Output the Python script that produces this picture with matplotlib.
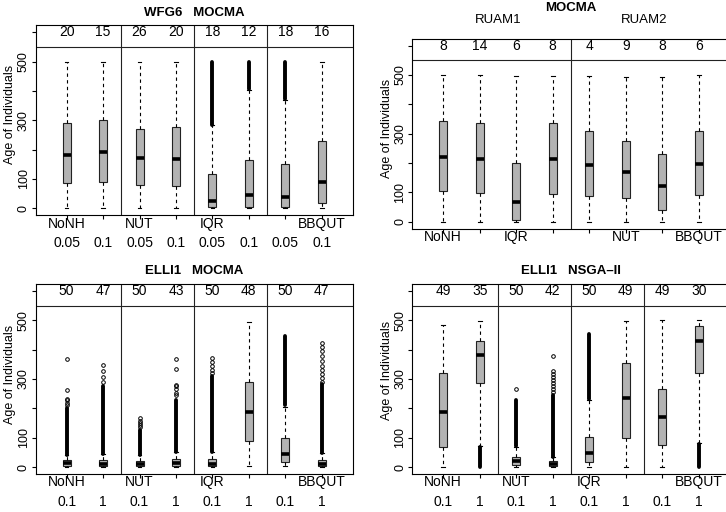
import matplotlib.pyplot as plt

plt.rcParams['font.family'] = ['Liberation Sans', 'DejaVu Sans']

W, H = 726, 512
pos = [1, 2, 3, 4, 5, 6, 7, 8]

# WFG6 MOCMA
wfg6_counts = [20, 15, 26, 20, 18, 12, 18, 16]
wfg6_whislo = [0, 0, 0, 0, 0, 0, 0, 0]
wfg6_q1 = [87, 89, 80, 75, 3, 3, 5, 17]
wfg6_med = [180, 191, 171, 168, 24, 45, 38, 88]
wfg6_q3 = [291, 302, 270, 278, 116, 164, 151, 228]
wfg6_whishi = [500, 500, 498, 498, 283, 402, 368, 500]
wfg6_band_lo = [None, None, None, None, 285, 406, 372, None]
wfg6_band_hi = [None, None, None, None, 500, 500, 500, None]
wfg6_fliers = [[], [], [], [], [], [], [], []]

# MOCMA RUAM1 / RUAM2
ruam_counts = [8, 14, 6, 8, 4, 9, 8, 6]
ruam_whislo = [0, 0, 0, 0, 0, 0, 0, 0]
ruam_q1 = [103, 97, 6, 93, 86, 79, 40, 92]
ruam_med = [222, 215, 66, 212, 193, 169, 120, 198]
ruam_q3 = [344, 335, 201, 335, 308, 275, 229, 308]
ruam_whishi = [500, 500, 495, 495, 495, 493, 493, 500]

# ELLI1 MOCMA
ellim_counts = [50, 47, 50, 43, 50, 48, 50, 47]
ellim_whislo = [0, 0, 0, 0, 0, 3, 3, 0]
ellim_q1 = [3, 3, 3, 4, 3, 89, 18, 3]
ellim_med = [13, 12, 12, 13, 12, 189, 44, 12]
ellim_q3 = [24, 24, 22, 28, 28, 291, 99, 25]
ellim_whishi = [40, 43, 40, 50, 50, 496, 206, 47]
ellim_band_lo = [41, 44, 41, 51, 51, None, 212, 48]
ellim_band_hi = [202, 275, 128, 228, 311, None, 447, 282]
ellim_fliers = [[210, 218, 227, 232, 262, 367],
                [290, 307, 327, 347],
                [137, 145, 150, 158, 167],
                [245, 253, 265, 276, 281, 335, 369],
                [322, 332, 345, 359, 373],
                [],
                [],
                [290, 305, 318, 332, 345, 362, 378, 397, 410, 424]]

# ELLI1 NSGA-II
ellin_counts = [49, 35, 50, 42, 50, 49, 49, 30]
ellin_whislo = [0, 72, 0, 0, 0, 0, 0, 81]
ellin_q1 = [67, 286, 7, 2, 18, 98, 75, 320]
ellin_med = [188, 382, 20, 10, 47, 235, 170, 428]
ellin_q3 = [322, 431, 35, 20, 104, 354, 266, 481]
ellin_whishi = [483, 499, 70, 34, 229, 499, 500, 500]
ellin_band_lo = [None, 0, 72, 35, 231, None, None, 0]
ellin_band_hi = [None, 69, 230, 247, 452, None, None, 80]
ellin_fliers = [[], [], [267],
                [255, 265, 278, 288, 298, 308, 318, 327, 378],
                [], [], [], []]

methods_a = ['NoNH', '', 'NUT', '', 'IQR', '', '', 'BBQUT']
methods_b = ['NoNH', '', 'IQR', '', '', 'NUT', '', 'BBQUT']
rates_a = ['0.05', '0.1'] * 4
rates_b = ['0.1', '1'] * 4


def rect(left, top, width, height):
    return [left / W, 1 - (top + height) / H, width / W, height / H]


def panel(ax, counts, whislo, q1, med, q3, whishi, band_lo=None, band_hi=None,
          fliers=None, seps=(2.5, 4.5, 6.5), row1=None, row2=None):
    stats = []
    for i in range(len(pos)):
        stats.append(dict(whislo=whislo[i], q1=q1[i], med=med[i], q3=q3[i],
                          whishi=whishi[i], fliers=fliers[i] if fliers else []))
    ax.bxp(stats, positions=pos, widths=0.22, capwidths=0.1, patch_artist=True,
           boxprops=dict(facecolor='#b3b3b3', edgecolor='#222222', linewidth=0.8),
           medianprops=dict(color='black', linewidth=2.6, solid_capstyle='butt'),
           whiskerprops=dict(color='black', linewidth=0.8, linestyle=(0, (3, 3))),
           capprops=dict(color='black', linewidth=0.8),
           flierprops=dict(marker='o', markerfacecolor='none', markeredgecolor='black',
                           markersize=2.6, markeredgewidth=0.7))
    if band_lo:
        for x, lo, hi in zip(pos, band_lo, band_hi):
            if lo is not None:
                ax.plot([x, x], [lo, hi], color='black', lw=2.8, solid_capstyle='round')
    for s in seps:
        ax.axvline(s, color='#222222', lw=0.8)
    ax.axhline(550, color='#222222', lw=0.8)
    for x, c in zip(pos, counts):
        ax.text(x, 600, str(c), ha='center', va='center', fontsize=10)
    if row1:
        for x, t in zip(pos, row1):
            ax.text(x, -52, t, ha='center', va='center', fontsize=10)
    if row2:
        for x, t in zip(pos, row2):
            ax.text(x, -120, t, ha='center', va='center', fontsize=10)
    ax.set_xlim(0.15, 8.85)
    ax.set_ylim(-24, 624)
    ax.set_xticks(pos)
    ax.set_xticklabels([''] * 8)
    ax.set_yticks([0, 100, 200, 300, 400, 500, 600])
    ax.set_yticklabels(['0', '100', '', '300', '', '500', ''], rotation=90, va='center',
                       fontsize=9)
    ax.tick_params(length=3.2, width=0.8, pad=1.2)
    for sp in ax.spines.values():
        sp.set_linewidth(0.8)


fig = plt.figure(figsize=(7.26, 5.12), dpi=100)

ax1 = fig.add_axes(rect(35.7, 25.2, 317, 190.1))
panel(ax1, wfg6_counts, wfg6_whislo, wfg6_q1, wfg6_med, wfg6_q3, wfg6_whishi,
      wfg6_band_lo, wfg6_band_hi, wfg6_fliers, row1=methods_a, row2=rates_a)
ax1.text(4.5, 666, 'WFG6   MOCMA', ha='center', va='center', fontsize=9.5, fontweight='bold')

ax2 = fig.add_axes(rect(412.2, 38.6, 317.6, 190.1))
panel(ax2, ruam_counts, ruam_whislo, ruam_q1, ruam_med, ruam_q3, ruam_whishi,
      seps=(4.5,), row1=methods_b)
ax2.text(4.5, 727, 'MOCMA', ha='center', va='center', fontsize=9.5, fontweight='bold')
ax2.text(2.5, 689, 'RUAM1', ha='center', va='center', fontsize=9.5)
ax2.text(6.5, 689, 'RUAM2', ha='center', va='center', fontsize=9.5)

ax3 = fig.add_axes(rect(35.7, 284, 317, 190.1))
panel(ax3, ellim_counts, ellim_whislo, ellim_q1, ellim_med, ellim_q3, ellim_whishi,
      ellim_band_lo, ellim_band_hi, ellim_fliers, row1=methods_a, row2=rates_b)
ax3.text(4.5, 668, 'ELLI1   MOCMA', ha='center', va='center', fontsize=9.5, fontweight='bold')

ax4 = fig.add_axes(rect(412.2, 284, 317.6, 190.1))
panel(ax4, ellin_counts, ellin_whislo, ellin_q1, ellin_med, ellin_q3, ellin_whishi,
      ellin_band_lo, ellin_band_hi, ellin_fliers, row1=methods_a, row2=rates_b)
ax4.text(4.5, 668, 'ELLI1   NSGA\u2013II', ha='center', va='center', fontsize=9.5,
         fontweight='bold')

for x, y in [(10, 114), (387, 128), (10, 374), (387, 370)]:
    fig.text(x / W, 1 - y / H, 'Age of Individuals', rotation=90, ha='center',
             va='center', fontsize=9)

fig.savefig('out.png', dpi=100)
